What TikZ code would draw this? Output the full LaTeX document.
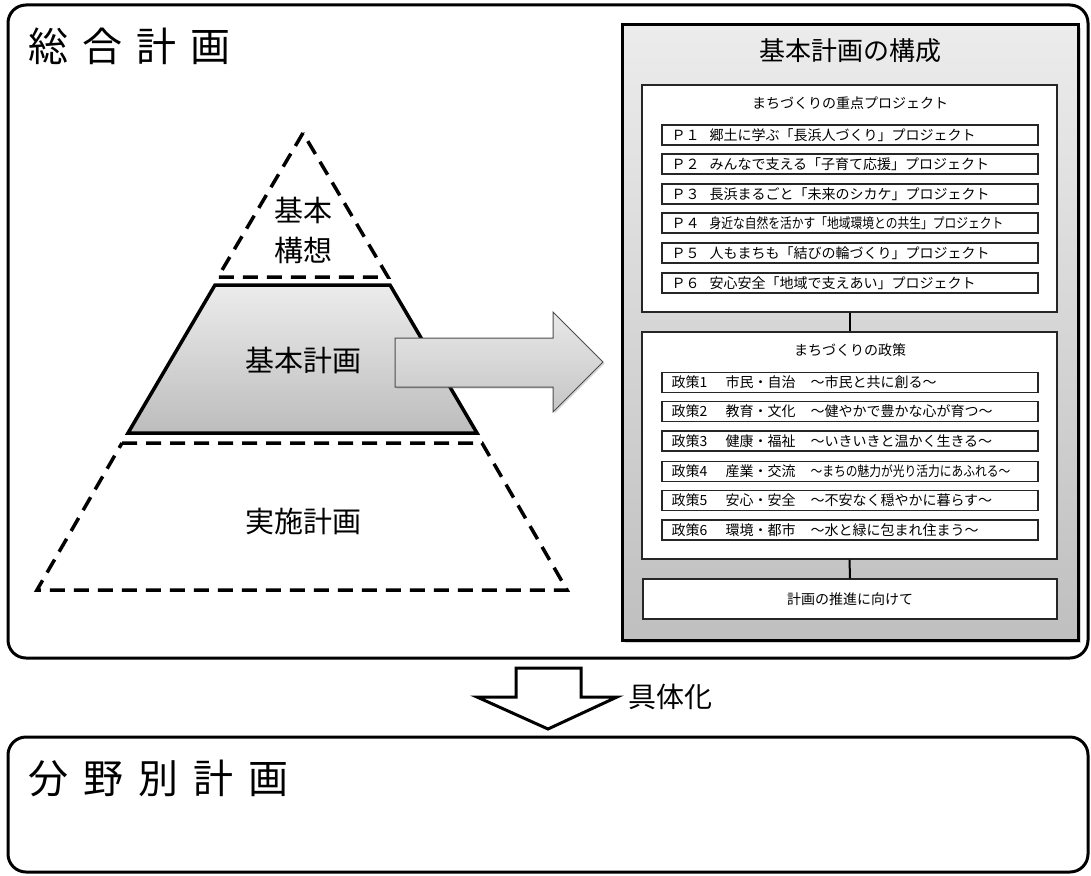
\documentclass[tikz,border=0pt]{standalone}
\usepackage{fontspec}
\usepackage{graphicx}
\setmainfont{Noto Sans CJK JP}
\usetikzlibrary{shadows}
\newcommand{\projrow}[2]{\makebox[357pt][l]{\makebox[38pt][l]{#1}#2}}
\newcommand{\polrow}[3]{\makebox[357pt][l]{\makebox[54pt][l]{#1}\makebox[85pt][l]{#2}#3}}
\begin{document}
\begin{tikzpicture}[x=1pt,y=-1pt,
  bigbox/.style={draw, line width=3pt, rounded corners=18pt, minimum width=1080pt, inner sep=0pt},
  bigtitle/.style={anchor=west, inner sep=0pt, font=\fontsize{40}{44}\selectfont},
  dashline/.style={line width=3.5pt, dash pattern=on 15pt off 9pt},
  pyrtext/.style={inner sep=0pt, font=\fontsize{29}{40}\selectfont, align=center},
  panel/.style={draw, line width=3pt, top color=gray!15, bottom color=gray!50,
    minimum width=456pt, minimum height=615pt, inner sep=0pt,
    drop shadow={shadow xshift=3pt, shadow yshift=-3pt, opacity=0.35}},
  secbox/.style={draw=black!85, line width=1.3pt, fill=white, minimum width=415pt, inner sep=0pt},
  sectitle/.style={inner sep=0pt, font=\fontsize{14}{16}\selectfont},
  itembox/.style={draw=black!85, line width=1.3pt, fill=white, minimum width=376pt,
    minimum height=20pt, inner sep=0pt, font=\fontsize{14}{16}\selectfont},
  link/.style={line width=2pt}
]
\useasboundingbox (0,0) rectangle (1091,875);

% outer boxes
\node[bigbox, minimum height=653pt] (sogo) at (548,331.5) {};
\node[bigtitle] (sogoT) at (28,46) {総\hspace{14pt}合\hspace{14pt}計\hspace{14pt}画};
\node[bigbox, minimum height=135pt] (bunya) at (548,804.5) {};
\node[bigtitle] (bunyaT) at (28,778) {分\hspace{15pt}野\hspace{15pt}別\hspace{15pt}計\hspace{15pt}画};

% pyramid
\draw[dashline] (303,133) -- (218,277) -- (388,277) -- cycle;
\draw[line width=3.5pt, line join=miter, top color=gray!15, bottom color=gray!52]
  (215,285) -- (390,285) -- (477,433) -- (128,433) -- cycle;
\draw[dashline] (122,443) -- (482,443) -- (567,590) -- (37,590) -- cycle;
\node[pyrtext] (kousou) at (303,230) {基本\\構想};
\node[pyrtext] (kihon) at (303,360) {基本計画};
\node[pyrtext] (jisshi) at (303,521) {実施計画};

% big arrow
\draw[draw=black!70, line width=1pt, top color=gray!18, bottom color=gray!45,
  drop shadow={shadow xshift=1.5pt, shadow yshift=-1.5pt, opacity=0.3}]
  (395,338) -- (553,338) -- (553,312) -- (603,362) -- (553,412) -- (553,387) -- (395,387) -- cycle;

% right panel
\node[panel] (panel) at (850,332.5) {};
\node[inner sep=0pt, font=\fontsize{26}{30}\selectfont] (panelT) at (850,51) {基本計画の構成};

\node[secbox, minimum height=227pt] (box1) at (849.5,198.5) {};
\node[sectitle] (box1T) at (850,103) {まちづくりの重点プロジェクト};
\node[itembox] (p1) at (850,135) {\projrow{Ｐ１}{郷土に学ぶ「長浜人づくり」プロジェクト}};
\node[itembox] (p2) at (850,164) {\projrow{Ｐ２}{みんなで支える「子育て応援」プロジェクト}};
\node[itembox] (p3) at (850,194) {\projrow{Ｐ３}{長浜まるごと「未来のシカケ」プロジェクト}};
\node[itembox] (p4) at (850,223) {\projrow{Ｐ４}{\scalebox{0.84}[1]{身近な自然を活かす「地域環境との共生」プロジェクト}}};
\node[itembox] (p5) at (850,253) {\projrow{Ｐ５}{人もまちも「結びの輪づくり」プロジェクト}};
\node[itembox] (p6) at (850,283) {\projrow{Ｐ６}{安心安全「地域で支えあい」プロジェクト}};

\node[secbox, minimum height=227pt] (box2) at (849.5,445.5) {};
\node[sectitle] (box2T) at (850,350) {まちづくりの政策};
\node[itembox] (s1) at (850,382.5) {\polrow{政策1}{市民・自治}{～市民と共に創る～}};
\node[itembox] (s2) at (850,411.5) {\polrow{政策2}{教育・文化}{～健やかで豊かな心が育つ～}};
\node[itembox] (s3) at (850,441) {\polrow{政策3}{健康・福祉}{～いきいきと温かく生きる～}};
\node[itembox] (s4) at (850,471.5) {\polrow{政策4}{産業・交流}{\scalebox{0.84}[1]{～まちの魅力が光り活力にあふれる～}}};
\node[itembox] (s5) at (850,500.5) {\polrow{政策5}{安心・安全}{～不安なく穏やかに暮らす～}};
\node[itembox] (s6) at (850,530) {\polrow{政策6}{環境・都市}{～水と緑に包まれ住まう～}};

\node[secbox, minimum width=414pt, minimum height=40pt, font=\fontsize{14}{16}\selectfont] (box3) at (850,599) {計画の推進に向けて};

\draw[link] (box1.south) -- (box2.north);
\draw[link] (box2.south) -- (box3.north);

% down arrow
\draw[line width=3pt, fill=white, line join=miter]
  (516,668) -- (581,668) -- (581,697) -- (617,697) -- (548,729) -- (477,697) -- (516,697) -- cycle;
\node[inner sep=0pt, font=\fontsize{28}{32}\selectfont] (gutai) at (670,697) {具体化};
\end{tikzpicture}
\end{document}
